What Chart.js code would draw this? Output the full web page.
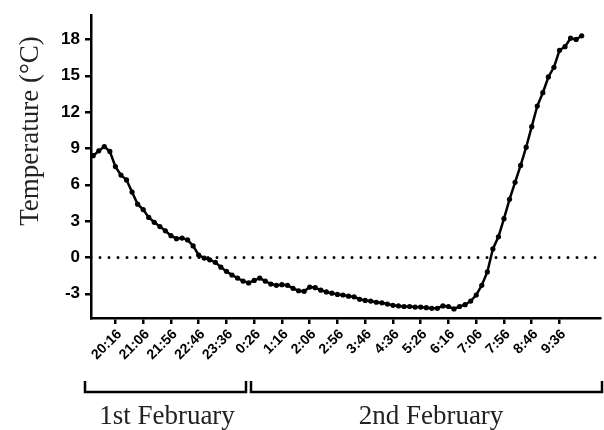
<!DOCTYPE html>
<html>
<head>
<meta charset="utf-8">
<script src="https://cdn.jsdelivr.net/npm/chart.js@4.4.1/dist/chart.umd.min.js"></script>
<style>
  body { margin: 0; background: #fff; }
  #wrap { width: 604px; height: 430px; }
</style>
</head>
<body>
<div id="wrap"><canvas id="chart" width="604" height="430"></canvas></div>
<script>
// readings every 10 minutes, 1st Feb evening -> 2nd Feb morning
const times = [
  '19:36','19:46','19:56','20:06','20:16','20:26','20:36','20:46','20:56','21:06',
  '21:16','21:26','21:36','21:46','21:56','22:06','22:16','22:26','22:36','22:46',
  '22:56','23:06','23:16','23:26','23:36','23:46','23:56','0:06','0:16','0:26',
  '0:36','0:46','0:56','1:06','1:16','1:26','1:36','1:46','1:56','2:06',
  '2:16','2:26','2:36','2:46','2:56','3:06','3:16','3:26','3:36','3:46',
  '3:56','4:06','4:16','4:26','4:36','4:46','4:56','5:06','5:16','5:26',
  '5:36','5:46','5:56','6:06','6:16','6:26','6:36','6:46','6:56','7:06',
  '7:16','7:26','7:36','7:46','7:56','8:06','8:16','8:26','8:36','8:46',
  '8:56','9:06','9:16','9:26','9:36','9:46','9:56','10:06','10:16'
];
const temps = [
  8.4, 8.8, 9.15, 8.75, 7.5, 6.8, 6.4, 5.4, 4.4, 3.95,
  3.3, 2.9, 2.55, 2.2, 1.8, 1.55, 1.6, 1.45, 0.95, 0.2,
  -0.05, -0.2, -0.4, -0.8, -1.15, -1.45, -1.7, -1.95, -2.1, -1.9,
  -1.7, -1.95, -2.2, -2.3, -2.25, -2.3, -2.55, -2.75, -2.8, -2.45,
  -2.5, -2.7, -2.85, -2.95, -3.05, -3.1, -3.2, -3.25, -3.45, -3.55,
  -3.6, -3.7, -3.75, -3.85, -3.95, -4.0, -4.05, -4.05, -4.1, -4.1,
  -4.15, -4.2, -4.2, -4.0, -4.05, -4.25, -4.05, -3.9, -3.6, -3.1,
  -2.3, -1.2, 0.7, 1.7, 3.2, 4.8, 6.2, 7.6, 9.1, 10.8,
  12.5, 13.6, 14.9, 15.7, 17.1, 17.4, 18.1, 18.0, 18.3
];
const xTickLabels = ['20:16','21:06','21:56','22:46','23:36','0:26','1:16','2:06','2:56',
  '3:46','4:36','5:26','6:16','7:06','7:56','8:46','9:36'];
const yTickValues = [-3, 0, 3, 6, 9, 12, 15, 18];
const days = ['1st February', '2nd February'];

// minutes since midnight of 1st Feb (morning hours belong to the next day)
function toMinutes(t) {
  const [h, m] = t.split(':').map(Number);
  return (h < 12 ? h + 24 : h) * 60 + m;
}
const xMin = toMinutes('19:32');
const xMax = toMinutes('10:49');

const points = times.map((t, i) => ({ x: toMinutes(t), y: temps[i] }));

const bracketPlugin = {
  id: 'brackets',
  afterDraw(chart) {
    const ctx = chart.ctx;
    ctx.save();
    ctx.strokeStyle = '#000';
    ctx.lineWidth = 2.5;
    const spans = [[85, 246], [251, 602]];
    spans.forEach(([a, b]) => {
      ctx.beginPath();
      ctx.moveTo(a, 381);
      ctx.lineTo(a, 392);
      ctx.lineTo(b, 392);
      ctx.lineTo(b, 381);
      ctx.stroke();
    });
    ctx.fillStyle = '#222';
    ctx.font = '27px "Liberation Serif", "Times New Roman", serif';
    ctx.textAlign = 'center';
    ctx.textBaseline = 'alphabetic';
    ctx.fillText(days[0], 167, 424);
    ctx.fillText(days[1], 431, 424);
    // y axis title
    ctx.translate(38, 131);
    ctx.rotate(-Math.PI / 2);
    ctx.fillText('Temperature (°C)', 0, 0);
    ctx.restore();
  }
};

new Chart(document.getElementById('chart'), {
  type: 'line',
  data: {
    datasets: [{
      data: points,
      borderColor: '#000',
      backgroundColor: '#000',
      borderWidth: 2.5,
      pointRadius: 2.6,
      pointBorderWidth: 0,
      tension: 0,
      clip: false
    }, {
      data: [{ x: xMin, y: 0 }, { x: xMax, y: 0 }],
      borderColor: '#000',
      borderWidth: 3,
      borderDash: [0, 9],
      borderCapStyle: 'round',
      pointRadius: 0
    }]
  },
  options: {
    responsive: false,
    animation: false,
    layout: { padding: { top: 13, right: 0, left: 0, bottom: 0 } },
    plugins: { legend: { display: false }, tooltip: { enabled: false } },
    scales: {
      x: {
        type: 'linear',
        min: xMin,
        max: xMax,
        afterFit: s => { s.height = 112; },
        afterBuildTicks: s => { s.ticks = xTickLabels.map(t => ({ value: toMinutes(t) })); },
        border: { display: true, color: '#000', width: 2.5 },
        grid: { display: true, drawOnChartArea: false, drawTicks: true, tickLength: 6, color: '#000', lineWidth: 2.5 },
        ticks: {
          autoSkip: false,
          minRotation: 45,
          maxRotation: 45,
          padding: 2,
          labelOffset: 4,
          color: '#000',
          font: { family: '"Liberation Sans", Arial, sans-serif', size: 14, weight: 'bold' },
          callback: v => xTickLabels.find(t => toMinutes(t) === v) || ''
        }
      },
      y: {
        min: -5,
        max: 20,
        afterFit: s => { s.width = 91; },
        afterBuildTicks: s => { s.ticks = yTickValues.map(v => ({ value: v })); },
        border: { display: true, color: '#000', width: 2.5 },
        grid: { display: true, drawOnChartArea: false, drawTicks: true, tickLength: 6, color: '#000', lineWidth: 2.5 },
        ticks: {
          padding: 5,
          color: '#000',
          font: { family: '"Liberation Sans", Arial, sans-serif', size: 17, weight: 'bold' }
        }
      }
    }
  },
  plugins: [bracketPlugin]
});
</script>
</body>
</html>
